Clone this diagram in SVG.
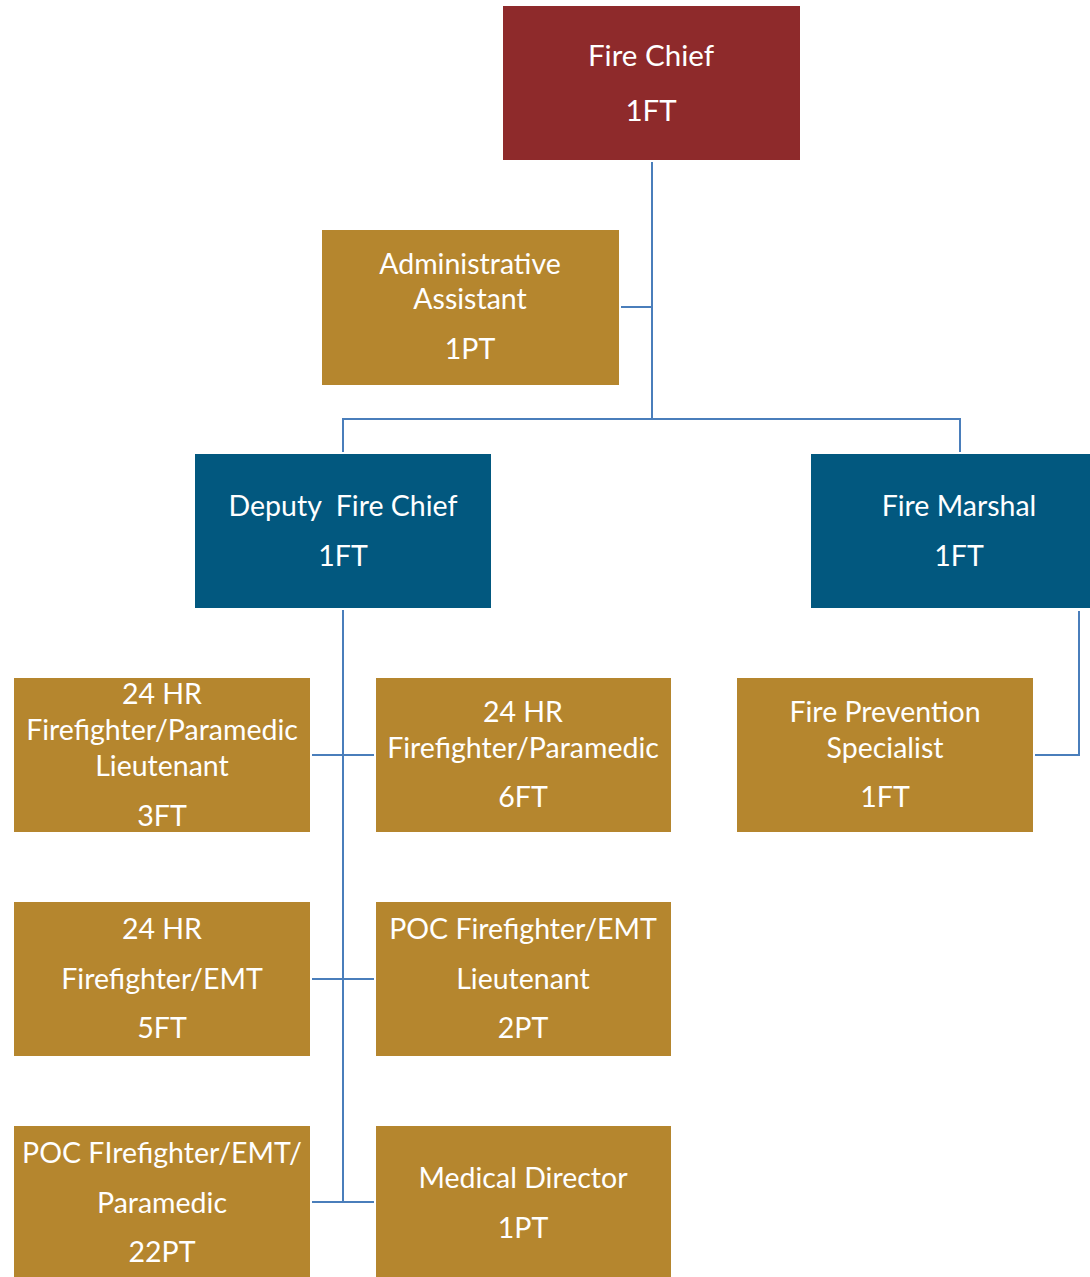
<svg xmlns="http://www.w3.org/2000/svg" width="1090" height="1277" viewBox="0 0 1090 1277">
<style>
.gold{fill:#B5862E}
.red{fill:#8E2A2B}
.blue{fill:#02587F}
text{font-family:Lato,"Liberation Sans",sans-serif;font-size:28.5px;fill:#ffffff;text-anchor:middle}
.big{font-size:29.5px}
.conn{stroke:#4A7EBB;stroke-width:2;fill:none}
</style>
<rect width="1090" height="1277" fill="#ffffff"/>
<g id="connectors">
<path class="conn" d="M652,162 V419"/>
<path class="conn" d="M621,307 H652"/>
<path class="conn" d="M343,452 V419 H960 V452"/>
<path class="conn" d="M343,610 V1202"/>
<path class="conn" d="M312,755 H374"/>
<path class="conn" d="M312,979 H374"/>
<path class="conn" d="M312,1202 H374"/>
<path class="conn" d="M1079,611 V755 H1035"/>
</g>
<g id="fire-chief">
<rect class="red" x="503" y="6" width="297" height="154"/>
<text class="big" x="651" y="66">Fire Chief</text>
<text class="big" x="651" y="121">1FT</text>
</g>
<g id="admin-assistant">
<rect class="gold" x="322" y="230" width="297" height="155"/>
<text x="470" y="274">Administrative</text>
<text x="470" y="309">Assistant</text>
<text x="470" y="359">1PT</text>
</g>
<g id="deputy-fire-chief">
<rect class="blue" x="195" y="454" width="296" height="154"/>
<text x="343" y="516" xml:space="preserve">Deputy  Fire Chief</text>
<text x="343" y="566">1FT</text>
</g>
<g id="fire-marshal">
<rect class="blue" x="811" y="454" width="297" height="154"/>
<text x="959" y="516">Fire Marshal</text>
<text x="959" y="566">1FT</text>
</g>
<g id="ff-paramedic-lt">
<rect class="gold" x="14" y="678" width="296" height="154"/>
<text x="162" y="704">24 HR</text>
<text x="162" y="740">Firefighter/Paramedic</text>
<text x="162" y="776">Lieutenant</text>
<text x="162" y="826">3FT</text>
</g>
<g id="ff-paramedic">
<rect class="gold" x="376" y="678" width="295" height="154"/>
<text x="523" y="722">24 HR</text>
<text x="523" y="758">Firefighter/Paramedic</text>
<text x="523" y="807">6FT</text>
</g>
<g id="fire-prevention">
<rect class="gold" x="737" y="678" width="296" height="154"/>
<text x="885" y="722">Fire Prevention</text>
<text x="885" y="758">Specialist</text>
<text x="885" y="807">1FT</text>
</g>
<g id="ff-emt">
<rect class="gold" x="14" y="902" width="296" height="154"/>
<text x="162" y="939">24 HR</text>
<text x="162" y="989">Firefighter/EMT</text>
<text x="162" y="1038">5FT</text>
</g>
<g id="poc-ff-emt-lt">
<rect class="gold" x="376" y="902" width="295" height="154"/>
<text x="523" y="939">POC Firefighter/EMT</text>
<text x="523" y="989">Lieutenant</text>
<text x="523" y="1038">2PT</text>
</g>
<g id="poc-ff-emt-paramedic">
<rect class="gold" x="14" y="1126" width="296" height="154"/>
<text x="162" y="1163">POC FIrefighter/EMT/</text>
<text x="162" y="1213">Paramedic</text>
<text x="162" y="1262">22PT</text>
</g>
<g id="medical-director">
<rect class="gold" x="376" y="1126" width="295" height="154"/>
<text x="523" y="1188">Medical Director</text>
<text x="523" y="1238">1PT</text>
</g>
</svg>
